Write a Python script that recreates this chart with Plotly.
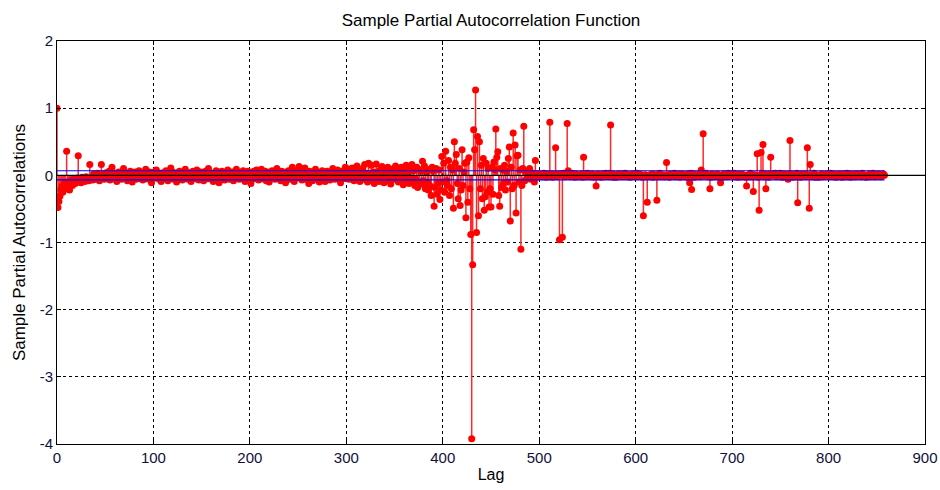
import numpy as np
import plotly.graph_objects as go

# Partial autocorrelation values (in hundredths), lags 0..499, blocks of 50
pacf_000 = [100, -48, -39, -31, -22, -17, -25, -14, -11, -20,
            36, -13, -9, -22, -12, -7, -15, -10, -5, -12,
            -8, -4, 29, -10, -6, -11, -3, -8, -5, -9,
            -2, -6, -4, -8, 16, -5, -3, -7, 2, -4,
            -6, -2, 3, -5, -8, -3, 16, -4, 2, -6]
pacf_050 = [-3, 4, -5, -2, 6, -7, -3, 12, -4, 2,
            -5, 3, -9, -2, 5, -4, 1, -6, 4, 10,
            -3, -5, 2, -8, 3, -2, 6, -4, -10, 3,
            -3, 5, -6, 2, -4, 7, -2, -5, 3, -7,
            4, -3, 9, -4, 2, -6, 5, -3, -11, 4]
pacf_100 = [-2, 5, -4, 8, -3, 1, -6, 3, -9, 2,
            4, -3, -5, 7, -2, -8, 3, -4, 11, -2,
            5, -6, 2, -3, -10, 4, -1, 6, -5, 3,
            -7, 2, -3, 9, -4, 1, -6, 4, -2, -9,
            3, 6, -4, 2, -5, 8, -3, -7, 1, 5]
pacf_150 = [-4, 3, -8, 2, 6, -3, -5, 10, -2, 4,
            -6, 1, -9, 3, -4, 7, -2, 5, -11, 2,
            -3, 6, -5, 1, -7, 4, -2, 8, -4, -6,
            3, -2, 5, -8, 2, -4, 9, -3, 1, -6,
            4, -5, 2, 7, -3, -9, 3, -2, 6, -4]
pacf_200 = [2, -12, 4, -3, 6, -5, 1, 8, -4, -7,
            3, -2, 9, -5, 2, -4, 6, -8, 3, -3,
            -10, 5, -2, 7, -4, 1, -6, 4, 10, -3,
            -5, 2, -8, 6, -2, -4, 3, -11, 5, -2,
            7, -6, 3, -3, 12, -5, -9, 4, -2, 6]
pacf_250 = [-3, 13, -4, 2, -7, 5, -2, 11, -6, 3,
            -4, -12, 6, -2, 4, -8, 3, -5, 9, -3,
            -6, 4, -10, 2, -3, 7, -5, 1, -9, 4,
            6, -3, 2, -7, 5, -4, 10, -2, -6, 3,
            -3, 8, -5, 2, -11, 4, -2, 7, -4, 12]
pacf_300 = [-5, 3, 9, -6, 2, -4, 11, -3, -8, 5,
            2, 14, -5, 3, -9, 6, -2, 10, -6, 16,
            -4, 3, -10, 18, 2, -7, 15, -3, 5, -12,
            4, 17, -6, 2, -9, 8, -3, 13, -5, -11,
            3, 6, -8, 12, -4, 2, -13, 9, -3, 5]
pacf_350 = [-6, 14, -4, 8, -10, 3, -7, 12, -5, -14,
            6, -3, 15, -9, 4, -12, 10, -6, 16, -8,
            7, -15, -5, 12, -18, 9, -10, 6, -13, 21,
            -8, 14, -20, 5, -11, -22, 9, -16, -30, 12,
            6, -46, -18, 10, -28, -12, 8, -36, -22, 28]
pacf_400 = [-10, 18, -25, 36, -8, -16, 22, -30, 12, -20,
            8, -49, 50, 18, 31, -12, -35, 10, -45, -22,
            38, -15, 5, 18, -63, 20, -40, 26, -20, -88,
            -392, -133, 68, 38, 127, -85, 58, -60, 50, -20,
            15, -35, 25, -52, -32, 18, -25, 10, -47, -20]
pacf_450 = [-47, 12, -28, 20, 8, 69, 27, 35, -30, -46,
            10, -18, 8, -12, 15, -22, 6, -10, 25, 42,
            -68, 12, -20, 63, -15, 45, -56, 29, 30, -10,
            8, -110, -15, 10, 73, -8, 6, -5, 3, -4,
            10, -6, 4, -3, 2, -10, 22, -3, 2, -2]
# lags 500..858: small background values
pacf_500 = [2, -1, 1, -2, 0, 3, -1, -3, 1, 2,
            -2, 1, -1, 2, -3, 0, 1, -1, 2, -2,
            1, -3, 2, 0, -1, 3, -2, 1, -1, 0,
            -1, 2, -2, 1, 3, -1, 0, -3, 2, 1,
            0, -2, 1, -1, 2, -3, 1, 2, -1, -2,
            3, -1, 0, -2, 1, 2, -3, 1, 0, -1,
            -2, 2, 1, -1, -3, 0, 2, -2, 1, 3,
            1, -1, -2, 3, 0, -1, 2, -3, 1, -2,
            -3, 1, 2, -1, 0, 2, -2, 1, -1, 3,
            2, -2, 0, 1, -3, 1, -1, 2, 0, -2,
            -1, 3, -2, 0, 2, -1, 1, -3, 2, 0,
            1, -2, 3, -1, -2, 1, 0, 2, -3, 1,
            0, 1, -1, -2, 2, 3, -1, 0, -2, 1,
            -2, 0, 2, -1, 1, -3, 2, 1, -1, 0,
            3, -2, -1, 1, 0, 2, -3, -1, 2, -1,
            -1, 1, 0, -3, 2, -1, 1, 3, -2, 0,
            2, -3, 1, 0, -1, 1, 2, -2, 0, -1,
            -2, 2, -1, 3, 1, -2, 0, 1, -3, 2,
            1, 0, -2, 1, -1, 2, -1, -3, 3, 0,
            -3, 2, 1, -1, 0, -2, 3, 1, -1, 2,
            0, -1, 3, -2, 1, 0, -3, 2, 1, -2,
            2, 1, -1, 0, -3, 2, -1, 1, -2, 3,
            -1, -2, 2, 1, 0, -1, 3, -3, 1, 0,
            1, 3, -1, -2, 2, 0, -1, 1, -3, 2,
            -2, 0, 1, 2, -1, 3, -2, 0, 1, -1,
            3, -1, -3, 1, 2, -2, 0, 1, -1, 2,
            0, 2, -1, -3, 1, 1, -2, 3, 0, -1,
            -1, -3, 2, 0, 1, -1, 2, -2, 3, 1,
            2, 0, -2, 1, -1, 3, -3, 1, 0, -2,
            -3, 1, 0, 2, -2, 1, -1, 0, 2, -1,
            1, -2, 3, -1, 0, -2, 2, 1, -3, 0,
            0, 2, -1, 1, -3, 2, 0, -2, 1, 3,
            -2, 1, 2, -3, 1, 0, -1, 2, -2, 1,
            2, -1, 0, 1, -2, 3, 1, -1, 0, -3,
            -1, 0, 2, -2, 1, -1, 3, 0, -2, 1,
            1, -1, 2, 0, -2, 1, -1, 2, 0]
# isolated large values in the sparse tail (lag, value in hundredths)
spike_lags = [511, 517, 521, 524, 529, 530, 546, 559, 574, 608, 612, 622,
              632, 656, 658, 668, 670, 677, 688, 715, 722, 726, 728, 730,
              732, 735, 740, 758, 760, 768, 778, 780, 781]
spike_vals = [79, 41, -96, -92, 77, 7, 27, -16, 75, -60, -40, -37,
              19, -11, -21, 8, 62, -20, -11, -16, -24, 32, -52, 34,
              46, -20, 27, -6, 52, -41, 41, -49, 16]
conf_bound = 0.068

x_ticks = [0, 100, 200, 300, 400, 500, 600, 700, 800, 900]
y_ticks = [-4, -3, -2, -1, 0, 1, 2]

vals = np.array(pacf_000 + pacf_050 + pacf_100 + pacf_150 + pacf_200 + pacf_250
                + pacf_300 + pacf_350 + pacf_400 + pacf_450 + pacf_500, dtype=float) / 100.0
for lg, v in zip(spike_lags, spike_vals):
    if lg < len(vals):
        vals[lg] = v / 100.0
lags = np.arange(len(vals))
last_lag = int(lags[-1])

stem_x, stem_y = [], []
for lg, v in zip(lags, vals):
    stem_x += [int(lg), int(lg), None]
    stem_y += [0.0, float(v), None]

fig = go.Figure()
fig.add_trace(go.Scatter(x=stem_x, y=stem_y, mode="lines",
                         line=dict(color="rgb(255,40,40)", width=1.5),
                         hoverinfo="skip", showlegend=False))
fig.add_trace(go.Scatter(x=lags, y=vals, mode="markers",
                         marker=dict(color="red", size=7, line=dict(width=0)),
                         showlegend=False))
fig.add_trace(go.Scatter(x=[0, last_lag], y=[conf_bound, conf_bound], mode="lines",
                         line=dict(color="blue", width=1.2), showlegend=False))
fig.add_trace(go.Scatter(x=[0, last_lag], y=[-conf_bound, -conf_bound], mode="lines",
                         line=dict(color="blue", width=1.2), showlegend=False))
fig.add_trace(go.Scatter(x=[0, 900], y=[0, 0], mode="lines",
                         line=dict(color="black", width=1.4), showlegend=False))

font_family = "Liberation Sans, Arial, sans-serif"
axis_common = dict(
    showgrid=True, gridcolor="black", gridwidth=1, griddash="3px,3px",
    showline=True, linecolor="black", linewidth=1, mirror="ticks",
    ticks="inside", ticklen=4, tickcolor="black", automargin=False,
    zeroline=False, tickfont=dict(family=font_family, size=15, color="#10103a"),
)
fig.update_layout(
    width=940, height=490,
    margin=dict(l=57, r=15, t=41, b=46),
    paper_bgcolor="white", plot_bgcolor="white",
    title=dict(text="Sample Partial Autocorrelation Function", x=0.5, xref="paper",
               y=1 - 20 / 490, yref="container", xanchor="center", yanchor="middle",
               font=dict(family=font_family, size=17, color="black")),
    xaxis=dict(range=[0, 900], tickvals=x_ticks, ticktext=[str(t) for t in x_ticks],
               title=dict(text="Lag", font=dict(family=font_family, size=16, color="black"),
                          standoff=3),
               **axis_common),
    yaxis=dict(range=[-4, 2], tickvals=y_ticks, ticktext=[str(t) for t in y_ticks],
               title=dict(text="Sample Partial Autocorrelations",
                          font=dict(family=font_family, size=17, color="black"),
                          standoff=9),
               **axis_common),
    showlegend=False,
)
fig.write_html("out.html")
